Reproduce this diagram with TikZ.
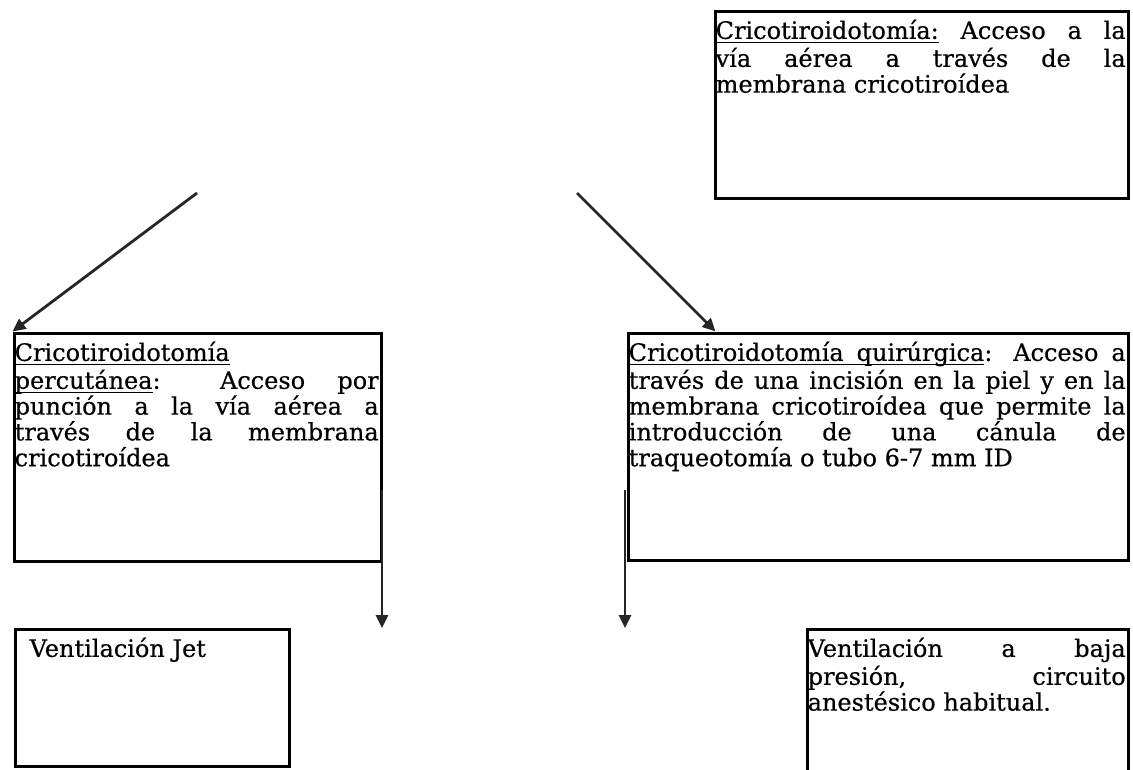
\documentclass[tikz,border=0pt]{standalone}
\usepackage{fontspec}
\setmainfont{DejaVu Serif}[FakeBold=0.5]
\usetikzlibrary{positioning,arrows.meta}
\tolerance=10000
\hyphenpenalty=10000
\exhyphenpenalty=10000
% underlined word and underlined (stretchable) space
\newcommand\ulw[1]{\setbox0\hbox{#1}\rlap{\vrule height -3pt depth 4.5pt width \wd0}\box0\relax}
\newcommand\ulsp{\leaders\hrule height -3pt depth 4.5pt\hskip\fontdimen2\font plus\fontdimen3\font minus\fontdimen4\font}

\begin{document}
\begin{tikzpicture} [x=1pt,y=-1pt,
	box/.style={draw,line width=3pt,inner sep=0pt},
	txt/.style={inner sep=0pt,align=justify,font=\fontsize{24}{25.8}\selectfont},
	arr/.style={draw=black!85,line width=2.8pt,-{Triangle[length=13pt,width=12pt]}}]
\clip (0,0) rectangle (1133,770);

% boxes
\node[box,minimum width=413pt,minimum height=187pt] (cric) at (921.5,105.5) {};
\node[box,minimum width=367pt,minimum height=228pt] (perc) at (197.5,447) {};
\node[box,minimum width=500pt,minimum height=227pt] (quir) at (878,446.5) {};
\node[box,minimum width=274pt,minimum height=137pt] (jet) at (152,697.5) {};
\node[box,minimum width=321pt,minimum height=180pt] (baja) at (967.5,719) {};

% texts
\node[txt,text width=410pt,below right=9pt and 2pt of cric.north west] (tcric)
	{\strut\ulw{Cricotiroidotomía:} Acceso a la\linebreak vía aérea a través de la\linebreak membrana cricotiroídea};
\node[txt,text width=364pt,below right=10pt and 2pt of perc.north west] (tperc)
	{\strut\ulw{Cricotiroidotomía}\newline \ulw{percutánea}: Acceso por\linebreak punción a la vía aérea a\linebreak través de la membrana\linebreak cricotiroídea};
\node[txt,text width=497pt,below right=10pt and 2pt of quir.north west] (tquir)
	{\strut\ulw{Cricotiroidotomía}\ulsp\ulw{quirúrgica}: Acceso a\linebreak través de una incisión en la piel y en la\linebreak membrana cricotiroídea que permite la\linebreak introducción de una cánula de\linebreak traqueotomía o tubo 6-7 mm ID};
\node[txt,text width=250pt,below right=10pt and 16pt of jet.north west] (tjet)
	{\strut Ventilación Jet};
\node[txt,text width=318pt,below right=10pt and 2pt of baja.north west] (tbaja)
	{\strut Ventilación a baja\linebreak presión, circuito\linebreak anestésico habitual.};

% arrows
\coordinate (s1) at (197,193);
\coordinate (s2) at (577,193);
\coordinate (t2) at ([xshift=89pt]quir.north west);
\coordinate (d1) at (382,490);
\coordinate (e1) at (382,628);
\coordinate (d2) at (625,490);
\coordinate (e2) at (625,628);

\foreach \a/\b in {s1/perc.north west,s2/t2,d1/e1,d2/e2}
	\draw[arr] (\a) -- (\b);

\end{tikzpicture}
\end{document}
